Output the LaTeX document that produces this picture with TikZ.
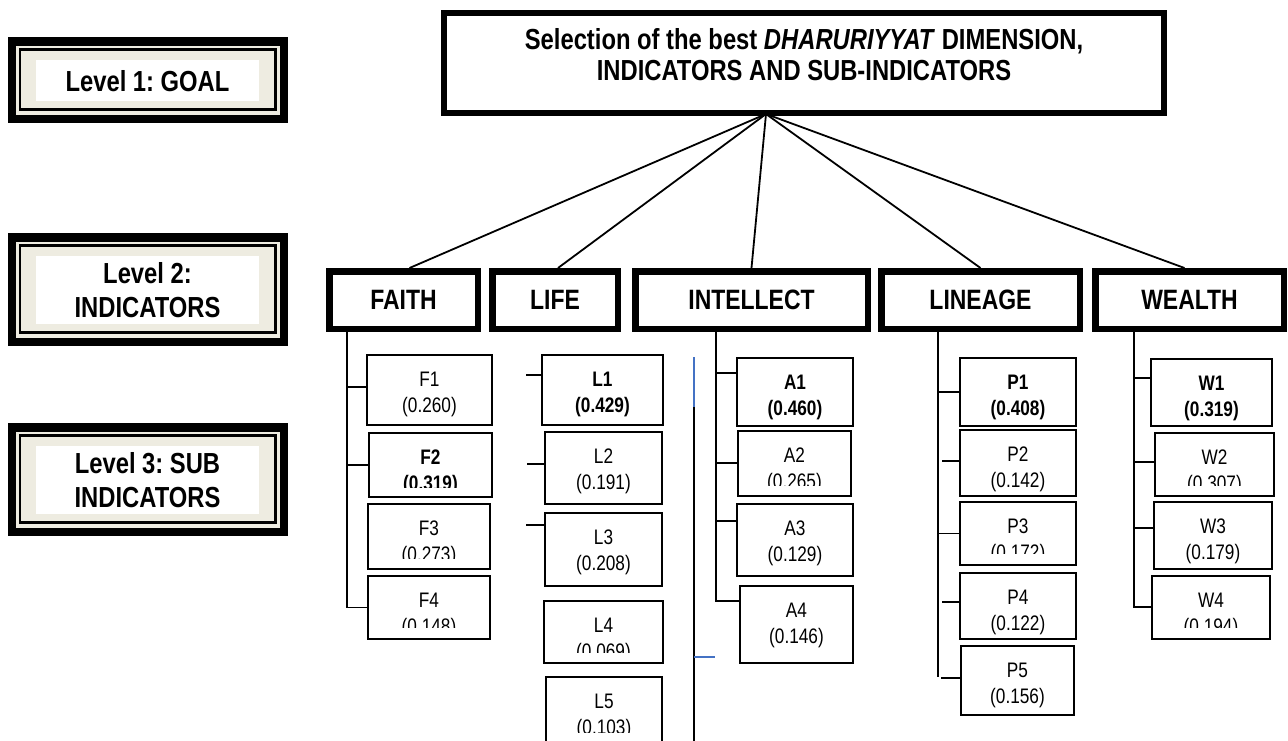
\documentclass[tikz,border=0pt]{standalone}
\usepackage{fontspec}
\newfontfamily\nar[FakeStretch=0.82]{Liberation Sans}
\definecolor{beige}{RGB}{238,236,225}
\definecolor{wordblue}{RGB}{68,114,196}
\frenchspacing
\newcommand{\subind}[9]{%
  \node[subbox, minimum width={#4-#2}, minimum height={#5-#3}] (#1) at ({(#2+#4)/2},{(#3+#5)/2}) {};
  \begin{scope}
    \clip (#2,#3) rectangle (#4,#8);
    \node[subtext,#9,anchor=base] (#1a) at ({(#2+#4)/2},#3+31) {#6};
    \node[subtext,#9,anchor=base] (#1b) at ({(#2+#4)/2},#3+57) {#7};
  \end{scope}}
\newcommand{\levelbox}[4]{%
  \fill (8,#2) rectangle (288,#3);
  \fill[beige] (16,#2+8.5) rectangle (280,#3-8);
  \draw[line width=2.5pt] (20,#2+12.5) rectangle (275.5,#3-13.5);
  \fill[white] (36,#2+23) rectangle (259,#3-22);
  \node[leveltext] (#1) at (147.5,{(#2+#3)/2+1}) {#4};}
\begin{document}
\begin{tikzpicture}[x=1pt,y=-1pt,
  conn/.style={line width=1.8pt},
  goalbox/.style={draw, line width=6pt, fill=white, inner sep=0pt},
  goaltext/.style={inner sep=0pt, align=center, font=\nar\bfseries\fontsize{29}{31}\selectfont},
  indbox/.style={draw, line width=6.5pt, fill=white, inner sep=0pt, font=\nar\bfseries\fontsize{28}{32}\selectfont},
  subbox/.style={draw, line width=1.8pt, fill=white, inner sep=0pt},
  subtext/.style={inner sep=0pt, font=\nar\fontsize{21}{26}\selectfont},
  normal/.style={},
  bold/.style={font=\nar\bfseries\fontsize{21}{26}\selectfont},
  leveltext/.style={inner sep=0pt, align=center, font=\nar\bfseries\fontsize{29}{34}\selectfont},
]
\useasboundingbox[fill=white] (0,0) rectangle (1288,740);

% level frames
\levelbox{lev1}{37}{123}{Level 1: GOAL}
\levelbox{lev2}{233}{346}{Level 2:\\INDICATORS}
\levelbox{lev3}{423}{536}{Level 3: SUB\\INDICATORS}

% goal
\node[goalbox, minimum width=720, minimum height=100] (goal) at (804,63) {};
\node[goaltext] (goaltxt) at (804,55) {Selection of the best \textit{DHARURIYYAT} DIMENSION,\\INDICATORS AND SUB-INDICATORS};
\coordinate (apex) at (766,114);

% indicators
\node[indbox, minimum width=148.5, minimum height=57.5] (faith) at (403.5,300) {FAITH};
\node[indbox, minimum width=125.5, minimum height=57.5] (life) at (555,300) {LIFE};
\node[indbox, minimum width=232.5, minimum height=57.5] (intellect) at (751.5,300) {INTELLECT};
\node[indbox, minimum width=198.5, minimum height=57.5] (lineage) at (980.5,300) {LINEAGE};
\node[indbox, minimum width=188.5, minimum height=57.5] (wealth) at (1189.5,300) {WEALTH};

\draw[conn] (apex) -- ([xshift=6]faith.north);
\draw[conn] (apex) -- ([xshift=3]life.north);
\draw[conn] (apex) -- (intellect.north);
\draw[conn] (apex) -- (lineage.north);
\draw[conn] (apex) -- ([xshift=-5]wealth.north);

% sub-indicators
\subind{f1}{367}{355}{492}{425}{F1}{(0.260)}{425}{normal}
\subind{f2}{369}{433}{492}{497}{F2}{(0.319)}{487}{bold}
\subind{f3}{368}{504}{490}{569}{F3}{(0.273)}{558}{normal}
\subind{f4}{368}{576}{490}{639}{F4}{(0.148)}{627}{normal}

\subind{l1}{542}{355}{663}{425}{L1}{(0.429)}{425}{bold}
\subind{l2}{545}{432}{662}{504}{L2}{(0.191)}{504}{normal}
\subind{l3}{545}{513}{662}{586}{L3}{(0.208)}{586}{normal}
\subind{l4}{544}{601}{663}{663}{L4}{(0.069)}{652}{normal}
\subind{l5}{546}{677}{662}{770}{L5}{(0.103)}{732}{normal}

\subind{a1}{737}{358}{853}{426}{A1}{(0.460)}{426}{bold}
\subind{a2}{738}{431}{851}{496}{A2}{(0.265)}{485}{normal}
\subind{a3}{737}{504}{853}{576}{A3}{(0.129)}{576}{normal}
\subind{a4}{740}{586}{853}{663}{A4}{(0.146)}{663}{normal}

\subind{p1}{960}{358}{1076}{426}{P1}{(0.408)}{426}{bold}
\subind{p2}{960}{430}{1076}{496}{P2}{(0.142)}{496}{normal}
\subind{p3}{960}{502}{1076}{565}{P3}{(0.172)}{553}{normal}
\subind{p4}{960}{573}{1076}{639}{P4}{(0.122)}{639}{normal}
\subind{p5}{961}{646}{1074}{715}{P5}{(0.156)}{715}{normal}

\subind{w1}{1151}{359}{1272}{426}{W1}{(0.319)}{426}{bold}
\subind{w2}{1155}{433}{1274}{496}{W2}{(0.307)}{485}{normal}
\subind{w3}{1154}{502}{1272}{569}{W3}{(0.179)}{569}{normal}
\subind{w4}{1152}{576}{1270}{639}{W4}{(0.194)}{627}{normal}

% faith branch
\coordinate (ft) at (347,332);
\draw[conn] (ft) |- (f4.west);
\draw[conn] (ft |- 0,387) -- (f1.west |- 0,387);
\draw[conn] (ft |- f2.west) -- (f2.west);

% life ticks (free)
\coordinate (lt1) at (526,375);
\coordinate (lt2) at (527,464);
\coordinate (lt3) at (526,525);
\draw[conn] (lt1) -- (lt1 -| l1.west);
\draw[conn] (lt2) -- (lt2 -| l2.west);
\draw[conn] (lt3) -- (lt3 -| l3.west);

% stray line left of intellect
\coordinate (bl1) at (694,357);
\coordinate (bl2) at (694,407);
\coordinate (bl3) at (694,750);
\coordinate (bt) at (694,657);
\draw[line width=1.5pt, wordblue] (bl1) -- (bl2);
\draw[conn] (bl2) -- (bl3);
\draw[line width=1.5pt, wordblue] (bt) -- ++(21,0);

% intellect branch
\coordinate (it) at (716,332);
\coordinate (ib) at (716,601);
\draw[conn] (it) -- (ib) -- (ib -| a4.west);
\draw[conn] (it |- 0,373) -- (a1.west |- 0,373);
\draw[conn] (it |- 0,463) -- (a2.west |- 0,463);
\draw[conn] (it |- 0,521) -- (a3.west |- 0,521);

% lineage branch
\coordinate (pt) at (938,332);
\coordinate (pb) at (938,677);
\draw[conn] (pt) -- (pb);
\draw[conn] (pt |- p1.west) -- (p1.west);
\draw[conn] ([xshift=4]pt |- 0,461) -- (p2.west |- 0,461);
\draw[conn] (pt |- p3.west) -- (p3.west);
\draw[conn] ([xshift=4]pt |- 0,602) -- (p4.west |- 0,602);
\draw[conn] ([xshift=3]pt |- 0,678) -- (p5.west |- 0,678);

% wealth branch
\coordinate (wt) at (1134,332);
\coordinate (wb) at (1134,607);
\draw[conn] (wt) -- (wb) -- (wb -| w4.west);
\draw[conn] (wt |- 0,378) -- (w1.west |- 0,378);
\draw[conn] (wt |- 0,462) -- (w2.west |- 0,462);
\draw[conn] (wt |- 0,528) -- (w3.west |- 0,528);
\end{tikzpicture}
\end{document}
